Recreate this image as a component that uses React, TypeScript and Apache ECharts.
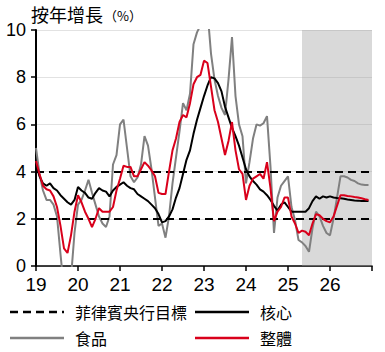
import React, { useEffect, useRef } from "react";
import * as echarts from "echarts";

// Monthly data, Jan 2019 (index 0) to Dec 2026 (index 95)
const headline: number[] = [
  4.45, 3.9, 3.4, 3.25, 3.2, 2.95, 2.5, 1.7, 0.75, 0.55, 1.3, 2.3,
  3.0, 2.7, 2.3, 2.0, 1.65, 2.0, 2.45, 2.3, 2.3, 2.3, 2.5, 3.2,
  3.7, 4.25, 4.2, 4.2, 3.8, 3.8, 4.1, 4.4, 4.25, 4.05, 3.8, 3.1,
  3.05, 3.05, 4.0, 4.9, 5.4, 6.1, 6.4, 6.3, 6.9, 7.7, 8.0, 8.1,
  8.7, 8.6, 7.6, 6.6, 6.1, 5.4, 4.7, 5.3, 6.1, 4.9, 4.1, 3.9,
  2.8, 3.4, 3.7, 3.8, 3.9, 3.7, 4.4, 3.3, 1.9, 2.3, 2.5, 2.9,
  2.9, 2.1, 1.8, 1.4, 1.5, 1.45, 1.3, 1.8, 2.2, 2.15, 2.0, 1.9,
  1.85, 2.1, 2.55, 3.0, 3.0, 2.97, 2.95, 2.92, 2.9, 2.87, 2.83, 2.8,
];

const core: number[] = [
  4.3, 3.8, 3.5, 3.4, 3.5, 3.3, 3.2, 3.0, 2.85, 2.7, 2.6, 2.8,
  3.35, 3.2, 3.1, 2.9, 2.85, 3.1, 3.3, 3.2, 3.15, 2.95, 3.2, 3.35,
  3.45, 3.55, 3.4, 3.3, 3.25, 3.05, 2.95, 2.85, 2.75, 2.6, 2.45, 2.2,
  1.85, 1.9, 2.1, 2.4, 2.9, 3.3, 3.9, 4.5, 4.9, 5.6, 6.2, 6.7,
  7.2, 7.65, 8.0, 7.95, 7.75, 7.4, 6.75, 6.3, 5.85, 5.5, 5.1, 4.6,
  4.1, 3.8, 3.6, 3.45, 3.25, 3.15, 3.0, 2.8, 2.55, 2.35, 2.6, 2.7,
  2.5, 2.3, 2.3, 2.3, 2.3, 2.3, 2.45, 2.75, 2.95, 2.85, 2.95, 2.9,
  2.95, 2.9, 2.88, 2.87, 2.85, 2.82, 2.8, 2.78, 2.77, 2.75, 2.75, 2.75,
];

const food: number[] = [
  5.0, 3.9, 3.2, 2.8, 2.8, 2.6, 2.1, 0.5, -1.0, -1.2, -0.5, 1.4,
  2.6, 2.8, 3.2, 3.65, 3.1, 2.6, 2.1, 1.8, 1.65, 2.1, 4.3, 4.7,
  6.0, 6.2, 5.0, 3.8, 3.55, 3.75, 4.3, 5.5, 5.1, 4.1, 2.9, 1.7,
  1.8, 1.2, 2.1, 3.5, 4.6, 5.7, 6.9, 6.6, 7.3, 9.4, 9.9, 10.2,
  11.1, 10.8, 9.0, 7.9, 7.2, 6.7, 6.4, 7.9, 9.7, 7.2, 6.0, 5.5,
  3.5, 4.4, 5.4, 6.0, 5.95, 6.05, 6.35, 4.2, 1.4, 2.9, 3.4, 3.6,
  3.8, 2.5, 1.95, 1.1, 1.0, 0.85, 0.6, 1.6, 2.3, 2.1, 1.7, 1.4,
  1.3, 2.0, 2.9, 3.8, 3.8, 3.75, 3.65, 3.6, 3.5, 3.45, 3.43, 3.43,
];

const targetLevels: number[] = [2, 4];
const forecastStart = 76; // May 2025
const xEnd = 96;
const yearLabels: string[] = ["19", "20", "21", "22", "23", "24", "25", "26"];
const names = { target: "菲律賓央行目標", core: "核心", food: "食品", headline: "整體" };

const numFont = '"Liberation Sans Narrow", "Arial Narrow", "Liberation Sans", Arial, sans-serif';
const cjkFont = '"Noto Sans CJK TC", "Noto Sans CJK SC", sans-serif';

const RED = "#d9001b";
const GRAY = "#808080";

export default function App() {
  const ref = useRef<HTMLDivElement>(null);
  useEffect(() => {
    if (!ref.current) return;
    const chart = echarts.init(ref.current, undefined, { renderer: "svg" });
    const toPts = (arr: number[]) => arr.map((v, i) => [i, v]);
    const legendItem = (x: number, y: number, label: string, color: string, dash?: number[]) => [
      {
        type: "line",
        shape: { x1: x, y1: y, x2: x + 54, y2: y },
        style: { stroke: color, lineWidth: 2.5, lineDash: dash },
      },
      {
        type: "text",
        x: x + 65,
        y: y,
        style: { text: label, font: `16px ${cjkFont}`, fill: "#000", verticalAlign: "middle", textAlign: "left" },
      },
    ];
    chart.setOption({
      animation: false,
      grid: { left: 36, right: 13, top: 30, bottom: 86, containLabel: false },
      xAxis: {
        type: "value",
        min: 0,
        max: xEnd,
        interval: 12,
        axisLine: { show: true, lineStyle: { color: "#000", width: 1.5 } },
        axisTick: { show: true, length: 5, lineStyle: { color: "#000", width: 1.5 } },
        axisLabel: {
          color: "#000",
          fontSize: 19,
          fontFamily: numFont,
          margin: 9,
          formatter: (v: number) => yearLabels[Math.round(v / 12)] ?? "",
        },
        splitLine: { show: false },
      },
      yAxis: {
        type: "value",
        min: 0,
        max: 10,
        interval: 2,
        axisLine: { show: true, lineStyle: { color: "#000", width: 2 } },
        axisTick: { show: true, length: 5, lineStyle: { color: "#000", width: 1.5 } },
        axisLabel: { color: "#000", fontSize: 18, fontFamily: numFont, margin: 10 },
        splitLine: { show: true, lineStyle: { color: "#e2e2e2", width: 1 } },
      },
      series: [
        {
          name: names.target,
          type: "line",
          data: [],
          z: 2,
          markLine: {
            silent: true,
            symbol: ["none", "none"],
            label: { show: false },
            lineStyle: { color: "#000", type: [8, 5], width: 2 },
            data: targetLevels.map((v) => ({ yAxis: v })),
          },
        },
        {
          name: names.food,
          type: "line",
          data: toPts(food),
          showSymbol: false,
          symbol: "none",
          clip: true,
          z: 3,
          lineStyle: { color: GRAY, width: 2 },
        },
        {
          name: names.core,
          type: "line",
          data: toPts(core),
          showSymbol: false,
          symbol: "none",
          z: 4,
          lineStyle: { color: "#000", width: 2 },
        },
        {
          name: names.headline,
          type: "line",
          data: toPts(headline),
          showSymbol: false,
          symbol: "none",
          z: 5,
          lineStyle: { color: RED, width: 2 },
        },
        {
          name: "forecast",
          type: "line",
          data: [],
          z: 10,
          markArea: {
            silent: true,
            itemStyle: { color: "rgba(160,160,160,0.4)" },
            data: [[{ xAxis: forecastStart }, { xAxis: xEnd }]],
          },
        },
      ],
      graphic: [
        {
          type: "text",
          x: 31,
          y: 5,
          style: { text: "按年增長", font: `18px ${cjkFont}`, fill: "#000" },
        },
        {
          type: "text",
          x: 104,
          y: 9,
          style: { text: "（%）", font: `13px ${cjkFont}`, fill: "#000" },
        },
        ...legendItem(10, 312, names.target, "#000", [8, 5]),
        ...legendItem(195, 312, names.core, "#000"),
        ...legendItem(10, 338, names.food, GRAY),
        ...legendItem(195, 338, names.headline, RED),
      ],
    });
    return () => chart.dispose();
  }, []);
  return <div ref={ref} style={{ width: 385, height: 352, position: "absolute", left: 0, top: 0 }} />;
}
